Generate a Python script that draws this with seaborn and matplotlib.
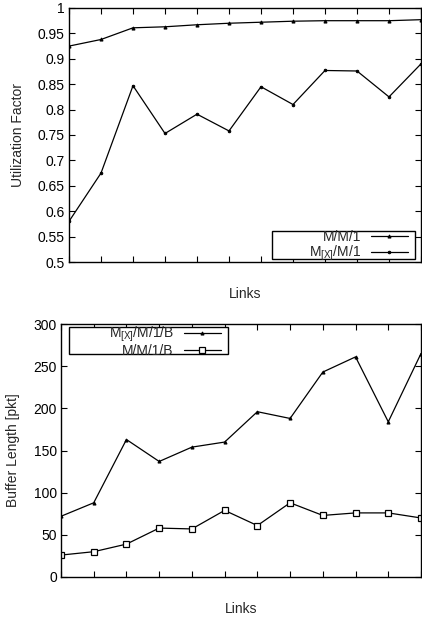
import numpy as np
import pandas as pd
import matplotlib
matplotlib.use("Agg")
import matplotlib.pyplot as plt
from matplotlib.patches import Rectangle
import seaborn as sns

links = list(range(12))
mm1 = [0.925, 0.938, 0.961, 0.963, 0.967, 0.970, 0.972, 0.974, 0.975, 0.975, 0.975, 0.977]
mx_m1 = [0.580, 0.675, 0.847, 0.753, 0.791, 0.758, 0.845, 0.810, 0.877, 0.876, 0.825, 0.890]
mx_m1b = [72, 88, 163, 137, 154, 160, 196, 188, 243, 261, 184, 265]
mm1b = [26, 30, 39, 58, 57, 79, 61, 88, 73, 76, 76, 70]
util_ticks = [0.5, 0.55, 0.6, 0.65, 0.7, 0.75, 0.8, 0.85, 0.9, 0.95, 1]
util_labels = ["0.5", "0.55", "0.6", "0.65", "0.7", "0.75", "0.8", "0.85", "0.9", "0.95", "1"]
buf_ticks = [0, 50, 100, 150, 200, 250, 300]

sns.set_theme(style="ticks")
plt.rcParams['font.family'] = ['Liberation Sans', 'DejaVu Sans']
plt.rcParams['mathtext.fontset'] = 'custom'
plt.rcParams['mathtext.rm'] = 'Liberation Sans'
plt.rcParams['mathtext.it'] = 'Liberation Sans'

FS = 10
fig = plt.figure(figsize=(4.22, 6.23), dpi=100)
W, H = 422, 623
ax1 = fig.add_axes([69 / W, 1 - 262 / H, (421 - 69) / W, (262 - 8) / H])
ax2 = fig.add_axes([61 / W, 1 - 577 / H, (421 - 61) / W, (577 - 324) / H])

def style(ax):
    for s in ax.spines.values():
        s.set_visible(True)
        s.set_color("black")
        s.set_linewidth(1.0)
    ax.set_xlim(0, 11)
    ax.set_xticks(links)
    ax.set_xticklabels([])
    ax.tick_params(direction="in", length=4, width=0.8, top=True, right=True,
                   labelsize=FS, colors="black", pad=3)

def make_legend(ax, x0, y0, x1, y1, dy):
    leg = ax.legend(loc="center right", bbox_to_anchor=(x0, y0 - dy, x1 - x0, y1 - y0),
                    markerfirst=False, fontsize=FS, frameon=False, borderpad=0.0,
                    labelspacing=0.0, handlelength=2.7, handletextpad=0.7,
                    borderaxespad=0.5)
    for col in leg._legend_handle_box.get_children():
        col.align = "right"
    ax.add_patch(Rectangle((x0, y0), x1 - x0, y1 - y0, transform=ax.transAxes,
                           fill=True, facecolor="white", edgecolor="black",
                           lw=1.0, zorder=4, clip_on=False))
    leg.set_zorder(5)
    return leg

mk = dict(markeredgecolor="black", markerfacecolor="black")

df1 = pd.DataFrame({"x": links, "MM1": mm1, "MX": mx_m1})
sns.lineplot(data=df1, x="x", y="MM1", ax=ax1, color="black", lw=0.9,
             marker="^", markersize=2.2, label="M/M/1", **mk)
sns.lineplot(data=df1, x="x", y="MX", ax=ax1, color="black", lw=0.9,
             marker="o", markersize=1.8, label=r"M$_{[X]}$/M/1", **mk)
style(ax1)
ax1.set_ylim(0.5, 1)
ax1.set_yticks(util_ticks)
ax1.set_yticklabels(util_labels)
ax1.set_xlabel("Links", fontsize=FS, labelpad=15)
ax1.set_ylabel("Utilization Factor", fontsize=FS, labelpad=9)
make_legend(ax1, (272 - 69) / 352, (262 - 259) / 254, (415 - 69) / 352, (262 - 231) / 254,
            1.5 / 254)

df2 = pd.DataFrame({"x": links, "MX": mx_m1b, "MM": mm1b})
sns.lineplot(data=df2, x="x", y="MX", ax=ax2, color="black", lw=0.9,
             marker="^", markersize=2.2, label=r"M$_{[X]}$/M/1/B", **mk)
sns.lineplot(data=df2, x="x", y="MM", ax=ax2, color="black", lw=0.9,
             marker="s", markersize=4, markerfacecolor="white",
             markeredgecolor="black", markeredgewidth=0.9, label="M/M/1/B")
style(ax2)
ax2.set_ylim(0, 300)
ax2.set_yticks(buf_ticks)
ax2.set_xlabel("Links", fontsize=FS, labelpad=15)
ax2.set_ylabel("Buffer Length [pkt]", fontsize=FS, labelpad=10)
make_legend(ax2, (69 - 61) / 360, (577 - 354) / 253, (228 - 61) / 360, (577 - 327) / 253,
            1 / 253)

fig.savefig("out.png", dpi=100)
